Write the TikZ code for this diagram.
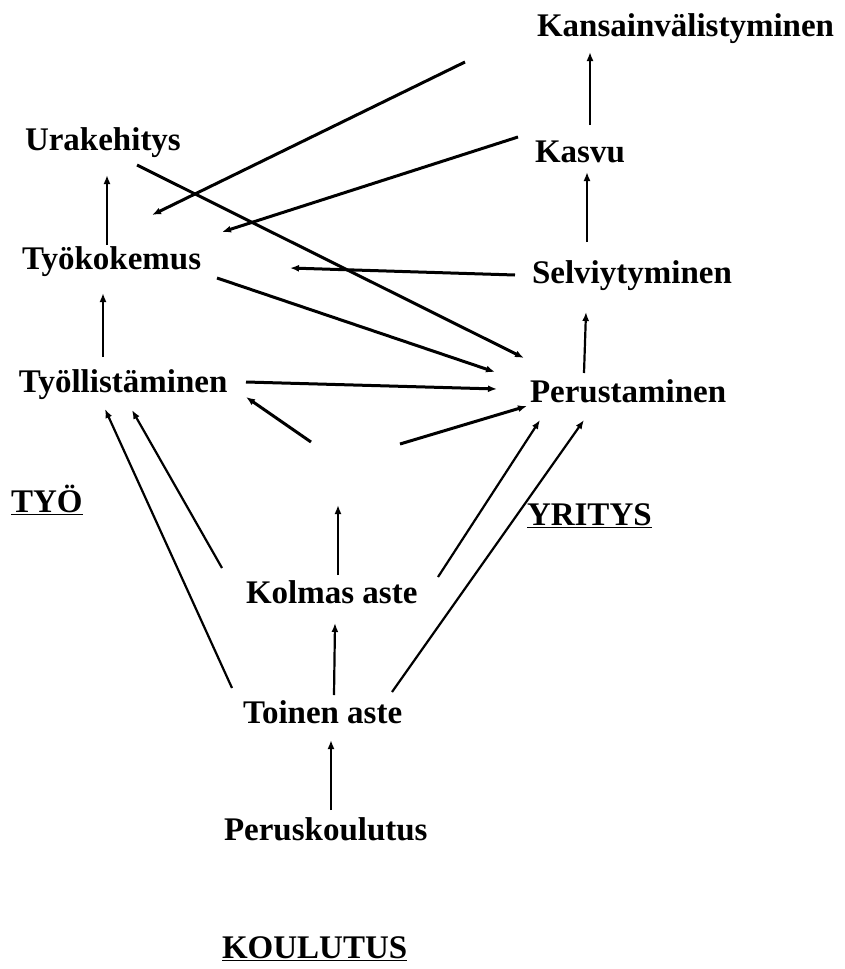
\documentclass[tikz,border=0pt]{standalone}
\usepackage{fontspec}
\setmainfont{Liberation Serif}
\usepackage{tikz}
\usetikzlibrary{arrows.meta}
\tikzset{
  termi/.style={anchor=base west,inner sep=0pt,outer sep=0pt},
  otsikko/.style={termi},
  nuoli/.style={-{Latex[length=9pt,width=7pt]},line width=3pt},
  pystynuoli/.style={-{Latex[length=9pt,width=7pt]},line width=2.2pt}
}
\begin{document}
\begin{tikzpicture}[x=1pt,y=-1pt,font=\fontsize{33}{40}\selectfont\bfseries]
\useasboundingbox (0,0) rectangle (845,969);
\node[termi] (kansa) at (537,36) {Kansainvälistyminen};
\node[termi] (ura) at (25,150) {Urakehitys};
\node[termi] (kasvu) at (535,162) {Kasvu};
\node[termi] (tyokok) at (22,269) {Työkokemus};
\node[termi] (selv) at (532,283) {Selviytyminen};
\node[termi] (tyoll) at (19,392) {Työllistäminen};
\node[termi] (perus) at (530,402) {Perustaminen};
\node[otsikko] (tyo) at (11,512) {\underline{TYÖ}};
\node[otsikko] (yritys) at (527,525) {\underline{YRITYS}};
\node[termi] (kolmas) at (246,603) {Kolmas aste};
\node[termi] (toinen) at (243,723) {Toinen aste};
\node[termi] (peruskoulu) at (224,840) {Peruskoulutus};
\node[otsikko] (koulutus) at (222,958) {\underline{KOULUTUS}};
\coordinate (tyhja) at (350,450);
\draw[pystynuoli] ([shift={(55,-37)}]kasvu.base west) -- ([shift={(53,16)}]kansa.base west);
\draw[pystynuoli] ([shift={(55,-41)}]selv.base west) -- ([shift={(52,10)}]kasvu.base west);
\draw[pystynuoli] ([shift={(54,-29)}]perus.base west) -- ([shift={(54,29)}]selv.base west);
\draw[pystynuoli] ([shift={(85,-24)}]tyokok.base west) -- ([shift={(82,25)}]ura.base west);
\draw[pystynuoli] ([shift={(84,-35)}]tyoll.base west) -- ([shift={(81,24)}]tyokok.base west);
\draw[nuoli] ([shift={(-72,26)}]kansa.base west) -- ([shift={(130,-54)}]tyokok.base west);
\draw[nuoli] ([shift={(-17,-25)}]kasvu.base west) -- ([shift={(200,-37)}]tyokok.base west);
\draw[nuoli] ([shift={(112,15)}]ura.base west) -- ([shift={(-6,-44)}]perus.base west);
\draw[nuoli] ([shift={(195,9)}]tyokok.base west) -- ([shift={(-35,-30)}]perus.base west);
\draw[nuoli] ([shift={(-17,-8)}]selv.base west) -- ([shift={(268,-1)}]tyokok.base west);
\draw[nuoli] ([shift={(227,-10)}]tyoll.base west) -- ([shift={(-33,-13)}]perus.base west);
\draw[nuoli] ([shift={(-39,-8)}]tyhja) -- ([shift={(227,5)}]tyoll.base west);
\draw[nuoli] ([shift={(50,-6)}]tyhja) -- ([shift={(-3,4)}]perus.base west);
\draw[pystynuoli] ([shift={(92,-28)}]kolmas.base west) -- ([shift={(-12,55)}]tyhja);
\draw[pystynuoli] ([shift={(-24,-35)}]kolmas.base west) -- ([shift={(113,18)}]tyoll.base west);
\draw[pystynuoli] ([shift={(-11,-35)}]toinen.base west) -- ([shift={(86,17)}]tyoll.base west);
\draw[pystynuoli] ([shift={(192,-26)}]kolmas.base west) -- ([shift={(10,18)}]perus.base west);
\draw[pystynuoli] ([shift={(149,-31)}]toinen.base west) -- ([shift={(54,18)}]perus.base west);
\draw[pystynuoli] ([shift={(91,-28)}]toinen.base west) -- ([shift={(89,20)}]kolmas.base west);
\draw[pystynuoli] ([shift={(107,-30)}]peruskoulu.base west) -- ([shift={(88,17)}]toinen.base west);
\end{tikzpicture}
\end{document}
